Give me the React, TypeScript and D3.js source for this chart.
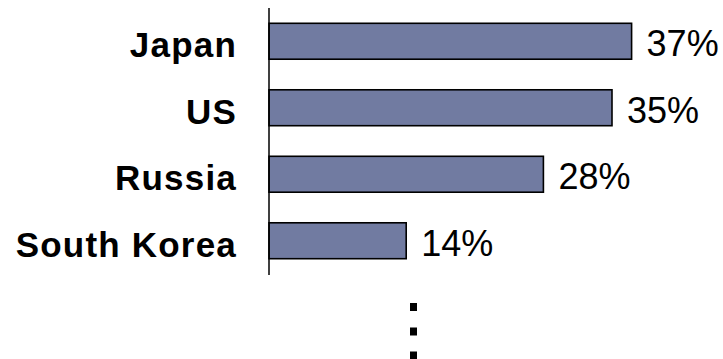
import React from "react";
import * as d3 from "d3";

const categories = ["Japan", "US", "Russia", "South Korea"];
const values = [37, 35, 28, 14];
const valueLabels = ["37%", "35%", "28%", "14%"];

const W = 723;
const H = 359;
const axisX = 269;

export default function App() {
  const x = d3.scaleLinear().domain([0, 40]).range([axisX, axisX + 392]);
  const y = d3
    .scaleBand<string>()
    .domain(categories)
    .range([8, 274])
    .paddingInner(0.46)
    .paddingOuter(0.23);
  const bw = y.bandwidth();
  const dotsX = 413.5;
  const dots = [307, 331.5, 355.5];

  return (
    <svg
      width={W}
      height={H}
      style={{ position: "absolute", left: 0, top: 0, background: "#fff" }}
    >
      {categories.map((c, i) => {
        const y0 = y(c)!;
        return (
          <g key={c}>
            <rect
              x={x(0)}
              y={y0}
              width={x(values[i]) - x(0)}
              height={bw}
              fill="#717ba1"
              stroke="#000"
              strokeWidth={1.6}
            />
            <text
              x={237}
              y={y0 + bw / 2 + 16}
              textAnchor="end"
              fontFamily="Liberation Sans, Arial, sans-serif"
              fontWeight="bold"
              fontSize={35}
              letterSpacing={1.2}
              fill="#000"
            >
              {c}
            </text>
            <text
              x={x(values[i]) + 15}
              y={y0 + bw / 2 + 15}
              textAnchor="start"
              fontFamily="Liberation Sans, Arial, sans-serif"
              fontSize={36}
              fill="#000"
            >
              {valueLabels[i]}
            </text>
          </g>
        );
      })}
      <line x1={axisX} x2={axisX} y1={8} y2={275} stroke="#000" strokeWidth={1.5} />
      {dots.map((d, i) => (
        <rect key={i} x={dotsX - 3.5} y={d - 4} width={7} height={8} fill="#000" />
      ))}
    </svg>
  );
}
